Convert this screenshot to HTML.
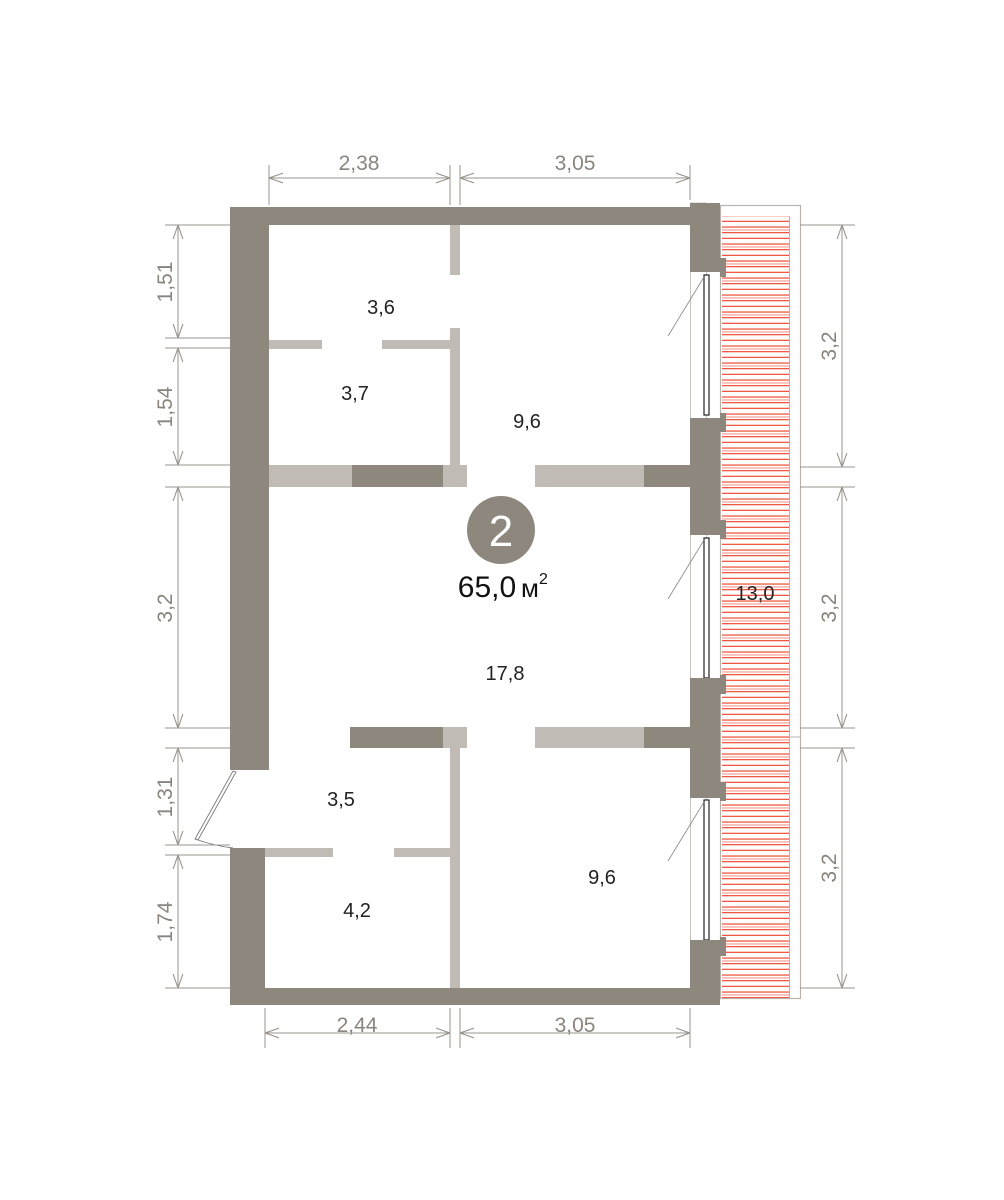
<!DOCTYPE html>
<html><head><meta charset="utf-8"><style>html,body{margin:0;padding:0;background:#fff}svg{display:block}</style></head>
<body>
<svg width="1004" height="1200" viewBox="0 0 1004 1200" xmlns="http://www.w3.org/2000/svg" font-family="Liberation Sans, sans-serif">
<defs>
<pattern id="st" x="0" y="215" width="10" height="17" patternUnits="userSpaceOnUse">
<rect x="0" y="0" width="10" height="1.3" fill="#ef5a44"/>
<rect x="0" y="5.7" width="10" height="1.3" fill="#ef5a44"/>
<rect x="0" y="11.4" width="10" height="1.3" fill="#ef5a44"/>
<rect x="0" y="14.2" width="10" height="1.5" fill="#f6b4aa"/>
</pattern>
<marker id="a" viewBox="0 0 10 10" refX="10" refY="5" markerWidth="14" markerHeight="14" markerUnits="userSpaceOnUse" orient="auto-start-reverse">
<path d="M0 1.5 L10 5 L0 8.5" fill="none" stroke="#9a948d" stroke-width="0.8"/>
</marker>
</defs>
<rect x="720.5" y="205.5" width="80" height="793" fill="#fff" stroke="#b8b3ad" stroke-width="1.2"/>
<rect x="722" y="216" width="67" height="782" fill="url(#st)"/>
<line x1="789.5" y1="216" x2="789.5" y2="998" stroke="#b8b3ad"/>
<line x1="789" y1="737" x2="800" y2="737" stroke="#b8b3ad"/>
<rect x="690.5" y="203" width="16" height="800" fill="#fff" stroke="#c9c5c0" stroke-width="1"/>
<g fill="#fff" stroke="#222" stroke-width="1.2">
<rect x="704" y="275" width="5" height="140"/>
<rect x="704" y="538" width="5" height="140"/>
<rect x="704" y="800" width="5" height="140"/>
</g>
<g stroke="#888" stroke-width="0.8">
<line x1="704" y1="277" x2="668" y2="336"/>
<line x1="704" y1="540" x2="668" y2="599"/>
<line x1="704" y1="802" x2="668" y2="861"/>
</g>
<g fill="#8e877d">
<rect x="230" y="207" width="39" height="563"/>
<rect x="230" y="207" width="490" height="18"/>
<rect x="230" y="848" width="35" height="157"/>
<rect x="230" y="988" width="490" height="17"/>
<rect x="690" y="203" width="30" height="69"/>
<rect x="720" y="258" width="6" height="19"/>
<rect x="690" y="418" width="30" height="117"/>
<rect x="720" y="413" width="6" height="19"/>
<rect x="720" y="520" width="6" height="19"/>
<rect x="690" y="678" width="30" height="120"/>
<rect x="720" y="675" width="6" height="19"/>
<rect x="720" y="782" width="6" height="19"/>
<rect x="690" y="940" width="30" height="65"/>
<rect x="720" y="937" width="6" height="19"/>
<rect x="352" y="465" width="91" height="22"/>
<rect x="644" y="465" width="46" height="22"/>
<rect x="350" y="727" width="93" height="21"/>
<rect x="644" y="727" width="46" height="21"/>
</g>
<g fill="#c0bbb5">
<rect x="450" y="225" width="10" height="50"/>
<rect x="450" y="328" width="10" height="137"/>
<rect x="269" y="340" width="53" height="9"/>
<rect x="382" y="340" width="78" height="9"/>
<rect x="269" y="465" width="83" height="22"/>
<rect x="443" y="465" width="24" height="22"/>
<rect x="535" y="465" width="109" height="22"/>
<rect x="443" y="727" width="24" height="21"/>
<rect x="535" y="727" width="109" height="21"/>
<rect x="450" y="748" width="10" height="240"/>
<rect x="265" y="848" width="68" height="9"/>
<rect x="394" y="848" width="66" height="9"/>
</g>
<g stroke="#777" stroke-width="0.9" fill="#fff">
<polygon points="233,771 236,772 198,840 195,839"/>
<path d="M195 839 Q215 846 233 848" fill="none"/>
</g>
<g stroke="#9a948d" stroke-width="1" fill="none">
<line x1="269" y1="165" x2="269" y2="205"/><line x1="450" y1="165" x2="450" y2="205"/>
<line x1="460" y1="165" x2="460" y2="205"/><line x1="690" y1="165" x2="690" y2="200"/>
<line x1="265" y1="1008" x2="265" y2="1048"/><line x1="450" y1="1008" x2="450" y2="1048"/>
<line x1="460" y1="1008" x2="460" y2="1048"/><line x1="690" y1="1008" x2="690" y2="1048"/>
<line x1="165" y1="225" x2="230" y2="225"/><line x1="165" y1="338" x2="230" y2="338"/>
<line x1="165" y1="348" x2="230" y2="348"/><line x1="165" y1="465" x2="230" y2="465"/>
<line x1="165" y1="487" x2="230" y2="487"/><line x1="165" y1="728" x2="230" y2="728"/>
<line x1="165" y1="748" x2="230" y2="748"/><line x1="165" y1="845" x2="230" y2="845"/>
<line x1="165" y1="855" x2="230" y2="855"/><line x1="165" y1="988" x2="230" y2="988"/>
<line x1="800" y1="225" x2="855" y2="225"/><line x1="800" y1="467" x2="855" y2="467"/>
<line x1="800" y1="487" x2="855" y2="487"/><line x1="800" y1="728" x2="855" y2="728"/>
<line x1="800" y1="748" x2="855" y2="748"/><line x1="800" y1="988" x2="855" y2="988"/>
</g>
<g stroke="#9a948d" stroke-width="1" fill="none" marker-start="url(#a)" marker-end="url(#a)">
<line x1="269" y1="178" x2="450" y2="178"/><line x1="460" y1="178" x2="690" y2="178"/>
<line x1="265" y1="1033" x2="450" y2="1033"/><line x1="460" y1="1033" x2="690" y2="1033"/>
<line x1="178" y1="225" x2="178" y2="338"/><line x1="178" y1="348" x2="178" y2="465"/>
<line x1="178" y1="487" x2="178" y2="728"/><line x1="178" y1="748" x2="178" y2="845"/>
<line x1="178" y1="855" x2="178" y2="988"/>
<line x1="842" y1="225" x2="842" y2="467"/><line x1="842" y1="487" x2="842" y2="728"/>
<line x1="842" y1="748" x2="842" y2="988"/>
</g>
<g fill="#8a847d" font-size="21" text-anchor="middle">
<text x="359" y="170">2,38</text><text x="575" y="170">3,05</text>
<text x="357" y="1032">2,44</text><text x="575" y="1032">3,05</text>
<text transform="translate(172,282) rotate(-90)">1,51</text>
<text transform="translate(172,407) rotate(-90)">1,54</text>
<text transform="translate(172,608) rotate(-90)">3,2</text>
<text transform="translate(172,797) rotate(-90)">1,31</text>
<text transform="translate(172,922) rotate(-90)">1,74</text>
<text transform="translate(836,346) rotate(-90)">3,2</text>
<text transform="translate(836,608) rotate(-90)">3,2</text>
<text transform="translate(836,868) rotate(-90)">3,2</text>
</g>
<g fill="#222" font-size="20" text-anchor="middle">
<text x="381" y="314">3,6</text><text x="355" y="400">3,7</text>
<text x="527" y="428">9,6</text><text x="505" y="680">17,8</text>
<text x="755" y="600">13,0</text><text x="341" y="806">3,5</text>
<text x="357" y="917">4,2</text><text x="602" y="884">9,6</text>
</g>
<circle cx="501" cy="530" r="34" fill="#8e877d"/>
<text x="501" y="546" fill="#fff" font-size="44" text-anchor="middle">2</text>
<text x="487" y="597" fill="#111" font-size="30" text-anchor="middle">65,0</text>
<text x="521" y="597" fill="#111" font-size="26">м</text>
<text x="539" y="584" fill="#111" font-size="16">2</text>
</svg>
</body></html>
